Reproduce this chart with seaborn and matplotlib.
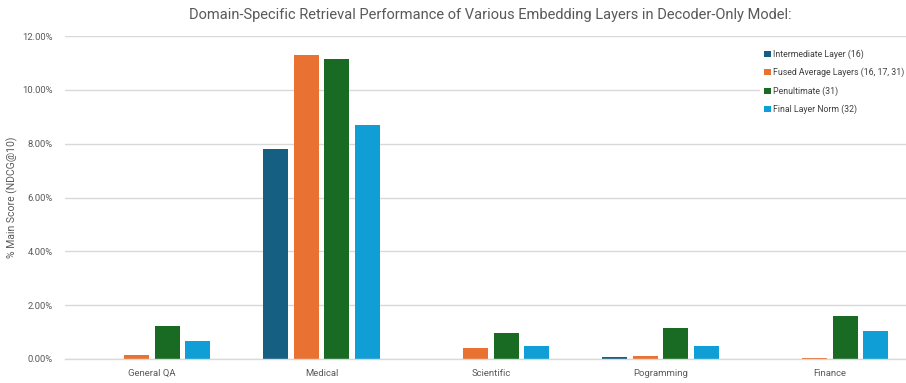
import matplotlib
matplotlib.use("Agg")
import matplotlib.pyplot as plt
from matplotlib.ticker import PercentFormatter, MultipleLocator
import pandas as pd
import seaborn as sns

domains = ["General QA", "Medical", "Scientific", "Pogramming", "Finance"]
layers = ["Intermediate Layer (16)", "Fused Average Layers (16, 17, 31)",
          "Penultimate (31)", "Final Layer Norm (32)"]
intermediate = [0.00, 7.81, 0.00, 0.07, 0.00]
fused = [0.15, 11.30, 0.41, 0.12, 0.05]
penultimate = [1.23, 11.13, 0.97, 1.15, 1.60]
final_norm = [0.67, 8.70, 0.48, 0.48, 1.04]
colors = ["#156082", "#E97132", "#196B24", "#0F9ED5"]

rows = []
for layer, vals in zip(layers, [intermediate, fused, penultimate, final_norm]):
    for d, v in zip(domains, vals):
        rows.append({"Domain": d, "Layer": layer, "Score": v})
df = pd.DataFrame(rows)

sns.set_theme(style="white")
plt.rcParams["font.family"] = ["Roboto", "DejaVu Sans"]

fig = plt.figure(figsize=(9.06, 3.83), dpi=100)
W, H = 906, 383
ax = fig.add_axes([65 / W, (H - 359) / H, (906 - 65) / W, (359 - 36) / H])

sns.barplot(data=df, x="Domain", y="Score", hue="Layer", order=domains,
            hue_order=layers, palette=colors, width=0.72, gap=0.18,
            linewidth=0, saturation=1, ax=ax)

c0, step = 152, 169.5
ax.set_xlim((65 - c0) / step, (906 - c0) / step)
ax.set_ylim(0, 12)
ax.yaxis.set_major_locator(MultipleLocator(2))
ax.yaxis.set_major_formatter(PercentFormatter(xmax=100, decimals=2))
ax.grid(axis="y", color="#D9D9D9", linewidth=1)
ax.set_axisbelow(True)
for s in ["top", "right", "left"]:
    ax.spines[s].set_visible(False)
ax.spines["bottom"].set_color("#D9D9D9")
ax.spines["bottom"].set_linewidth(1)
ax.tick_params(axis="both", length=0, labelsize=6.8, colors="#595959")
ax.tick_params(axis="y", pad=9)
ax.tick_params(axis="x", pad=7)
ax.set_xlabel("")
ax.set_ylabel("% Main Score (NDCG@10)", fontsize=7.5, color="#595959", labelpad=3)

fig.text(490 / W, 1 - 15 / H,
         "Domain-Specific Retrieval Performance of Various Embedding Layers in Decoder-Only Model:",
         ha="center", va="center", fontsize=10.5, color="#595959")

leg = ax.legend(loc="upper left", bbox_to_anchor=(760 / W, 1 - 45 / H),
                bbox_transform=fig.transFigure, frameon=True, fontsize=6.3,
                handlelength=0.7, handleheight=0.7, handletextpad=0.3,
                labelspacing=1.02, borderpad=0.5, borderaxespad=0)
leg.get_frame().set_facecolor("white")
leg.get_frame().set_edgecolor("none")
leg.get_frame().set_alpha(1)
for t in leg.get_texts():
    t.set_color("#404040")

fig.savefig("out.png", dpi=100, facecolor="white")
